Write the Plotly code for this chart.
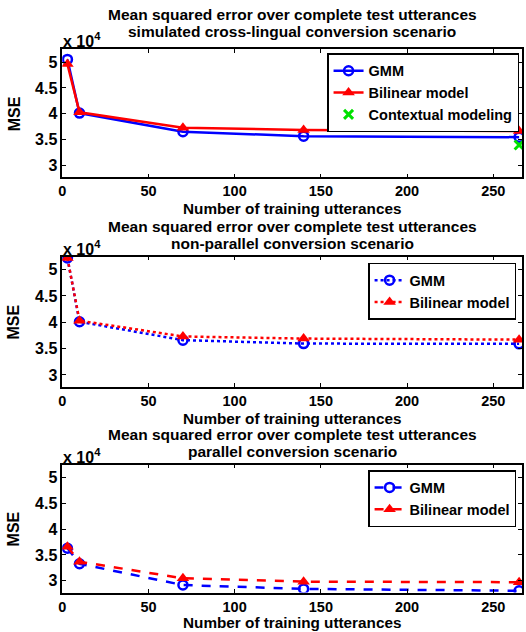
import plotly.graph_objects as go

# ---- data ----
n_train = [3, 10, 70, 140, 265]

# panel 1: simulated cross-lingual
gmm_cross = [50500, 40150, 36550, 35700, 35500]
bil_cross = [49600, 40300, 37300, 36900, 36700]
ctx_x = [265]
ctx_cross = [34000]

# panel 2: non-parallel
gmm_nonpar = [52200, 40100, 36600, 35950, 35900]
bil_nonpar = [52200, 40300, 37300, 36900, 36700]

# panel 3: parallel
gmm_par = [36300, 33300, 29200, 28450, 28100]
bil_par = [36600, 33700, 30500, 29850, 29750]

titles = [
    ("Mean squared error over complete test utterances", "simulated cross-lingual conversion scenario"),
    ("Mean squared error over complete test utterances", "non-parallel conversion scenario"),
    ("Mean squared error over complete test utterances", "parallel conversion scenario"),
]
ytick_vals = [30000, 35000, 40000, 45000, 50000]
ytick_text = ["3", "3.5", "4", "4.5", "5"]
xtick_vals = [0, 50, 100, 150, 200, 250]

W, H = 526, 632
BLUE, RED, GREEN = "#0000FF", "#FF0000", "#00E000"
FONT = "Liberation Sans, Arial, Helvetica, sans-serif"

# panel geometry in pixels (top, bottom)
panels_px = [(49.3, 177.3), (256.7, 386.7), (464.5, 592.5)]
x_left, x_right = 58.7, 522.0
title_y = [(14, 31), (226, 243), (434, 451)]
xlabel_y = [208, 418, 622.5]
legend_pos = [(519, 53.3), (516, 262.7), (516, 470)]

fig = go.Figure()

def px2py(y):
    return 1 - y / H

def add_pair(idx, gmm, bil, dash, gmm_sym):
    ax = "" if idx == 0 else str(idx + 1)
    lg = "legend" if idx == 0 else f"legend{idx + 1}"
    fig.add_trace(go.Scatter(
        x=n_train, y=gmm, name="GMM", mode="lines+markers",
        line=dict(color=BLUE, width=2.5, dash=dash),
        marker=dict(symbol=gmm_sym, size=9, color=BLUE, line=dict(width=2.5, color=BLUE)),
        xaxis="x" + ax, yaxis="y" + ax, legend=lg))
    fig.add_trace(go.Scatter(
        x=n_train, y=bil, name="Bilinear model", mode="lines+markers",
        line=dict(color=RED, width=2.5, dash=dash),
        marker=dict(symbol="triangle-up", size=11, color=RED),
        xaxis="x" + ax, yaxis="y" + ax, legend=lg))

add_pair(0, gmm_cross, bil_cross, "solid", "circle-open")
fig.add_trace(go.Scatter(
    x=ctx_x, y=ctx_cross, name="Contextual modeling", mode="markers",
    marker=dict(symbol="x-thin", size=9, color=GREEN, line=dict(width=3, color=GREEN)),
    xaxis="x", yaxis="y", legend="legend"))
add_pair(1, gmm_nonpar, bil_nonpar, "dot", "circle-open")
add_pair(2, gmm_par, bil_par, "dash", "circle-open")

layout = dict(
    width=W, height=H, margin=dict(l=0, r=0, t=0, b=0),
    paper_bgcolor="white", plot_bgcolor="white",
    font=dict(family=FONT, size=14, color="black", weight="bold"),
    showlegend=True,
)

annotations = []
for i, (top, bot) in enumerate(panels_px):
    ax = "" if i == 0 else str(i + 1)
    xa = dict(
        domain=[x_left / W, x_right / W], range=[0, 266.7],
        tickvals=xtick_vals, ticks="inside", ticklen=4, tickwidth=1, tickcolor="black",
        showline=True, linecolor="black", linewidth=1.5, mirror="ticks",
        showgrid=False, zeroline=False,
        tickfont=dict(family=FONT, size=14.5, weight="bold"),
        anchor="y" + ax,
    )
    ya = dict(
        domain=[px2py(bot), px2py(top)], range=[27760, 52450],
        tickvals=ytick_vals, ticktext=ytick_text, ticks="inside", ticklen=4, tickwidth=1,
        tickcolor="black", showline=True, linecolor="black", linewidth=1.5, mirror="ticks",
        showgrid=False, zeroline=False,
        tickfont=dict(family=FONT, size=16, weight="bold"),
        anchor="x" + ax,
    )
    layout["xaxis" + ax] = xa
    layout["yaxis" + ax] = ya

    lx, ly = legend_pos[i]
    lg = dict(
        x=lx / W, y=px2py(ly), xanchor="right", yanchor="top",
        bgcolor="white", bordercolor="black", borderwidth=1.5,
        font=dict(family=FONT, size=14.5, weight="bold"),
        tracegroupgap=0, itemsizing="trace",
    )
    layout["legend" if i == 0 else f"legend{i + 1}"] = lg

    cx = (x_left + x_right) / 2 / W
    t1, t2 = titles[i]
    annotations.append(dict(text=t1, x=cx, y=px2py(title_y[i][0]), xref="paper", yref="paper",
                            xanchor="center", yanchor="middle", showarrow=False,
                            font=dict(family=FONT, size=15.5, weight="bold")))
    annotations.append(dict(text=t2, x=cx, y=px2py(title_y[i][1]), xref="paper", yref="paper",
                            xanchor="center", yanchor="middle", showarrow=False,
                            font=dict(family=FONT, size=15.5, weight="bold")))
    annotations.append(dict(text="Number of training utterances", x=cx, y=px2py(xlabel_y[i]),
                            xref="paper", yref="paper", xanchor="center", yanchor="middle",
                            showarrow=False, font=dict(family=FONT, size=15.3, weight="bold")))
    annotations.append(dict(text="MSE", x=10 / W, y=px2py((top + bot) / 2), xref="paper",
                            yref="paper", xanchor="center", yanchor="middle", textangle=-90,
                            showarrow=False, font=dict(family=FONT, size=16, weight="bold")))
    annotations.append(dict(text="x 10<sup>4</sup>", x=57 / W, y=px2py(top - 9), xref="paper",
                            yref="paper", xanchor="left", yanchor="middle", showarrow=False,
                            font=dict(family=FONT, size=16, weight="bold")))

layout["annotations"] = annotations
fig.update_layout(**layout)
fig.write_html("out.html")
